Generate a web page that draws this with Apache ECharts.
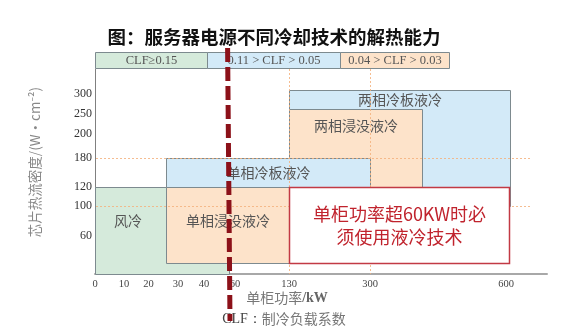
<!DOCTYPE html>
<html>
<head>
<meta charset="utf-8">
<script src="https://cdn.jsdelivr.net/npm/echarts@6/dist/echarts.min.js"></script>
<style>
  html, body { margin: 0; padding: 0; background: #fff; }
  #chart { width: 576px; height: 330px; }
</style>
</head>
<body>
<div id="chart"></div>
<script>
// 坐标轴刻度（非均匀）
var xTicks = [0, 10, 20, 30, 40, 60, 130, 300, 600];
var yTicks = [0, 60, 100, 120, 180, 200, 250, 300];
var yTickShown = [60, 100, 120, 180, 200, 250, 300];
// 刻度在图上的位置（像素），用来做分段映射
var xTickPos = [0, 29, 53.5, 83, 109, 140, 194, 275, 411];
var yTickPos = [0, 38, 67.7, 87.3, 116.3, 140, 160, 180];

// 各冷却技术的范围（单柜功率 kW / 热流密度 W·cm-2），按绘制顺序
var techNames = ['风冷', '两相冷板液冷', '两相浸没液冷', '单相冷板液冷', '单相浸没液冷'];
var techType = ['air', 'plate', 'immersion', 'plate', 'immersion'];
var powerMin = [0, 130, 130, 26, 26];
var powerMax = [56, 608, 415, 300, 130];
var fluxMin = [0, 100, 100, 120, 17];
var fluxMax = [120, 310, 262, 180, 120];

// CLF 区间
var clfLabels = ['CLF≥0.15', '0.11 > CLF > 0.05', '0.04 > CLF > 0.03'];
var clfEdges = [0, 42, 237, 475];

// 参考线
var refPower = [130, 300];
var refFlux = [180, 100];
var limitPower = 56;

// 注释框
var notePower = [130, 606];
var noteFlux = [18, 120];
var noteText = '单柜功率超60KW时必\n须使用液冷技术';

var cjk = '"Noto Sans CJK SC", "Noto Sans", sans-serif';
var serif = '"Liberation Serif", "DejaVu Serif", serif';

function mapPos (v, ticks, pos) {
  var n = ticks.length;
  var i = 1;
  while (i < n - 1 && v > ticks[i]) i++;
  var t = (v - ticks[i - 1]) / (ticks[i] - ticks[i - 1]);
  return pos[i - 1] + t * (pos[i] - pos[i - 1]);
}
function mapX (v) { return mapPos(v, xTicks, xTickPos); }
function mapY (v) { return mapPos(v, yTicks, yTickPos); }

function nearestLabel (v, posList, labels) {
  for (var i = 0; i < posList.length; i++) {
    if (Math.abs(posList[i] - v) < 0.01) return String(labels[i]);
  }
  return '';
}

var fills = { air: '#d5eadb', plate: '#d3eaf8', immersion: '#fde3ca' };
// 文字位置
var labelCfg = {
  '风冷': { position: 'insideLeft', distance: 19, offset: [0, -10] },
  '两相冷板液冷': { position: 'insideTop', distance: 3 },
  '两相浸没液冷': { position: 'insideTop', distance: 10 },
  '单相冷板液冷': { position: 'inside' },
  '单相浸没液冷': { position: 'inside', offset: [0, -5] }
};

var techData = techNames.map(function (name, i) {
  return [mapX(powerMin[i]), mapX(powerMax[i]), mapY(fluxMin[i]), mapY(fluxMax[i]), i];
});

var xTickPosList = xTicks.map(mapX);
var yTickPosList = yTickShown.map(mapY);

var chart = echarts.init(document.getElementById('chart'));

var option = {
  animation: false,
  grid: { left: 95, top: 69, width: 452, height: 205 },
  xAxis: {
    type: 'value', min: 0, max: 452,
    splitLine: { show: false },
    axisTick: { show: false },
    axisLine: { lineStyle: { color: '#a8a8a8', width: 2 } },
    axisLabel: {
      customValues: xTickPosList,
      margin: 5,
      color: '#444',
      fontSize: 10.5,
      fontFamily: serif,
      formatter: function (v) { return nearestLabel(v, xTickPosList, xTicks); }
    }
  },
  yAxis: {
    type: 'value', min: 0, max: 205,
    splitLine: { show: false },
    axisTick: { show: false },
    axisLine: { show: true, lineStyle: { color: '#808080', width: 1 } },
    axisLabel: {
      customValues: yTickPosList,
      margin: 3,
      color: '#333',
      fontSize: 12,
      fontFamily: serif,
      formatter: function (v) { return nearestLabel(v, yTickPosList, yTickShown); }
    }
  },
  graphic: [
    {
      type: 'text', x: 274, y: 37,
      style: {
        text: '图：服务器电源不同冷却技术的解热能力',
        fill: '#111', font: 'bold 18.5px ' + cjk,
        textAlign: 'center', textVerticalAlign: 'middle'
      }
    },
    {
      type: 'text', x: 287, y: 298,
      style: {
        text: '{a|单柜功率}{b|/kW}',
        textAlign: 'center', textVerticalAlign: 'middle',
        rich: {
          a: { fill: '#777', font: '14px ' + cjk },
          b: { fill: '#666', font: 'bold 14px ' + serif }
        }
      }
    },
    {
      type: 'text', x: 284, y: 319,
      style: {
        text: '{a|CLF：}{b|制冷负载系数}',
        textAlign: 'center', textVerticalAlign: 'middle',
        rich: {
          a: { fill: '#444', font: '14px ' + serif },
          b: { fill: '#777', font: '14px ' + cjk }
        }
      }
    },
    {
      type: 'text', x: 35, y: 162, rotation: Math.PI / 2,
      style: {
        text: '芯片热流密度/(W·cm⁻²)', fill: '#888', font: '13.5px ' + cjk,
        textAlign: 'center', textVerticalAlign: 'middle'
      }
    }
  ],
  series: [
    {
      // 技术范围矩形
      type: 'custom',
      z: 2,
      data: techData,
      renderItem: function (params, api) {
        var i = api.value(4);
        var name = techNames[i];
        var p0 = api.coord([api.value(0), api.value(2)]);
        var p1 = api.coord([api.value(1), api.value(3)]);
        var x0 = Math.round(p0[0]) + 0.5, x1 = Math.round(p1[0]) + 0.5;
        var y0 = Math.round(p1[1]) + 0.5, y1 = Math.round(p0[1]) + 0.5;
        var cfg = labelCfg[name];
        return {
          type: 'rect',
          shape: { x: x0, y: y0, width: x1 - x0, height: y1 - y0 },
          style: { fill: fills[techType[i]], stroke: '#7d8a8f', lineWidth: 1 },
          textContent: {
            style: { text: name, fill: '#555', fontSize: 14, fontFamily: cjk }
          },
          textConfig: { position: cfg.position, distance: cfg.distance || 0, offset: cfg.offset || [0, 0] }
        };
      }
    },
    {
      // 橙色点线参考线
      type: 'custom',
      z: 3,
      silent: true,
      data: refPower.map(function (v) { return [mapX(v), 0]; })
        .concat(refFlux.map(function (v) { return [mapY(v), 1]; })),
      renderItem: function (params, api) {
        var cs = params.coordSys;
        var v = api.value(0);
        var shape;
        if (api.value(1) === 0) {
          var x = Math.round(api.coord([v, 0])[0]) + 0.5;
          shape = { x1: x, y1: cs.y, x2: x, y2: cs.y + cs.height };
        } else {
          var y = Math.round(api.coord([0, v])[1]) + 0.5;
          shape = { x1: cs.x + 1, y1: y, x2: cs.x + cs.width - 16, y2: y };
        }
        return {
          type: 'line', shape: shape,
          style: { stroke: '#f3b27e', lineWidth: 1, lineDash: [2, 2], opacity: 0.85 }
        };
      }
    },
    {
      // 注释框
      type: 'custom',
      z: 4,
      data: [[mapX(notePower[0]), mapX(notePower[1]), mapY(noteFlux[0]), mapY(noteFlux[1])]],
      renderItem: function (params, api) {
        var p0 = api.coord([api.value(0), api.value(2)]);
        var p1 = api.coord([api.value(1), api.value(3)]);
        return {
          type: 'rect',
          shape: { x: Math.round(p0[0]) + 0.5, y: Math.round(p1[1]) + 0.5,
                   width: Math.round(p1[0] - p0[0]), height: Math.round(p0[1] - p1[1]) },
          style: { fill: '#fff', stroke: '#c23a44', lineWidth: 1.5 },
          textContent: {
            style: { text: noteText, fill: '#c0232d', fontSize: 18, lineHeight: 23,
                     fontFamily: cjk, align: 'center' }
          },
          textConfig: { position: 'inside' }
        };
      }
    },
    {
      // CLF 区间条
      type: 'custom',
      z: 4,
      clip: false,
      data: clfLabels.map(function (t, i) { return [mapX(clfEdges[i]), mapX(clfEdges[i + 1]), i]; }),
      renderItem: function (params, api) {
        var cs = params.coordSys;
        var i = api.value(2);
        var x0 = Math.round(api.coord([api.value(0), 0])[0]) + 0.5;
        var x1 = Math.round(api.coord([api.value(1), 0])[0]) + 0.5;
        var colors = [fills.air, fills.plate, fills.immersion];
        return {
          type: 'rect',
          shape: { x: x0, y: cs.y - 16.5, width: x1 - x0, height: 16 },
          style: { fill: colors[i], stroke: '#7d8a8f', lineWidth: 1 },
          textContent: {
            style: { text: clfLabels[i], fill: '#555', fontSize: 12.5, fontFamily: serif }
          },
          textConfig: { position: 'inside' }
        };
      }
    },
    {
      // 60kW 红色虚线
      type: 'custom',
      z: 10,
      clip: false,
      silent: true,
      data: [[mapX(limitPower)]],
      renderItem: function (params, api) {
        var cs = params.coordSys;
        var x = api.coord([api.value(0), 0])[0];
        return {
          type: 'line',
          shape: { x1: x - 1.2, y1: cs.y - 21, x2: x + 1.2, y2: cs.y + cs.height + 47 },
          style: { stroke: '#8c1119', lineWidth: 5, lineDash: [14, 5] }
        };
      }
    }
  ]
};

chart.setOption(option);
</script>
</body>
</html>
